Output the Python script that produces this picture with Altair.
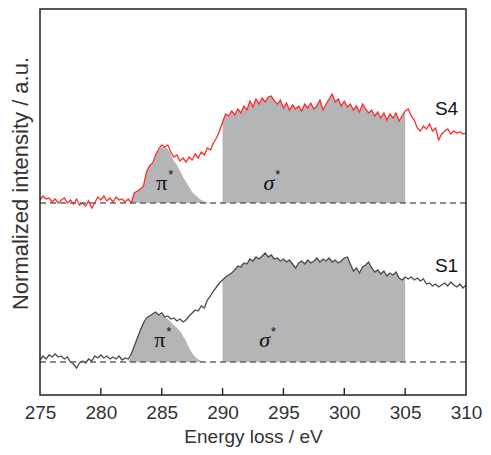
import altair as alt
import pandas as pd

# x sampling grid (eV), 0.25 eV step from 275 to 310
energy = [round(275 + 0.25 * i, 2) for i in range(141)]

s4 = [
    2.00, 2.04, 2.01, 2.02, 1.98, 2.01, 1.97, 2.00, 2.02, 1.97, 2.00, 1.96, 2.01, 1.95, 1.97, 1.94, 1.99, 1.92, 1.97, 2.03,
    2.00, 2.04, 1.99, 2.02, 1.98, 2.03, 2.00, 2.01, 1.98, 2.01, 1.97, 2.07, 2.09, 2.11, 2.14, 2.28, 2.34, 2.37, 2.45, 2.51,
    2.55, 2.53, 2.55, 2.48, 2.43, 2.45, 2.39, 2.42, 2.38, 2.43, 2.40, 2.46, 2.42, 2.48, 2.45, 2.52, 2.50, 2.57, 2.62, 2.69,
    2.78, 2.86, 2.84, 2.89, 2.85, 2.91, 2.87, 2.94, 2.90, 2.99, 2.93, 3.01, 2.96, 3.02, 2.98, 3.03, 3.04, 2.99, 2.96, 3.00,
    2.92, 2.97, 2.90, 2.95, 2.91, 2.94, 2.89, 2.96, 2.92, 2.97, 2.91, 2.94, 3.00, 2.90, 2.96, 3.01, 3.06, 2.98, 3.01, 2.94,
    2.99, 2.93, 2.96, 2.90, 2.94, 2.88, 2.96, 2.91, 2.87, 2.90, 2.84, 2.88, 2.82, 2.87, 2.80, 2.86, 2.82, 2.87, 2.79, 2.84,
    2.89, 2.91, 2.84, 2.80, 2.72, 2.69, 2.74, 2.71, 2.76, 2.69, 2.72, 2.60, 2.66, 2.69, 2.71, 2.66, 2.69, 2.67, 2.68, 2.66,
    2.67,
]

s1 = [
    0.40, 0.44, 0.41, 0.45, 0.43, 0.46, 0.43, 0.44, 0.41, 0.43, 0.38, 0.36, 0.32, 0.37, 0.39, 0.37, 0.41, 0.39, 0.44, 0.42,
    0.45, 0.42, 0.44, 0.41, 0.43, 0.41, 0.44, 0.40, 0.42, 0.41, 0.46, 0.54, 0.62, 0.70, 0.77, 0.82, 0.84, 0.86, 0.88, 0.85,
    0.87, 0.83, 0.84, 0.81, 0.82, 0.79, 0.81, 0.78, 0.80, 0.84, 0.87, 0.90, 0.89, 0.94, 0.92, 1.00, 1.04, 1.09, 1.13, 1.17,
    1.20, 1.23, 1.25, 1.27, 1.30, 1.34, 1.33, 1.37, 1.36, 1.41, 1.39, 1.43, 1.41, 1.44, 1.47, 1.43, 1.45, 1.41, 1.42, 1.39,
    1.41, 1.38, 1.40, 1.36, 1.32, 1.37, 1.39, 1.36, 1.40, 1.37, 1.39, 1.42, 1.38, 1.41, 1.39, 1.42, 1.38, 1.40, 1.37, 1.39,
    1.42, 1.43, 1.36, 1.29, 1.32, 1.27, 1.33, 1.35, 1.38, 1.32, 1.28, 1.30, 1.26, 1.29, 1.24, 1.27, 1.25, 1.28, 1.22, 1.20,
    1.23, 1.21, 1.23, 1.20, 1.22, 1.19, 1.21, 1.16, 1.17, 1.14, 1.16, 1.13, 1.15, 1.17, 1.14, 1.18, 1.15, 1.13, 1.16, 1.12,
    1.15,
]

samples = ["S4", "S1"]
baselines = [1.97, 0.38]

# pi* peak fills (read from the shaded regions)
pi_s4_energy = [282.5, 282.75, 283.0, 283.25, 283.5, 283.75, 284.0, 284.25, 284.5, 284.75, 285.0, 285.25, 285.5,
                285.75, 286.0, 286.25, 286.5, 286.75, 287.0, 287.25, 287.5, 287.75, 288.0, 288.25, 288.5, 288.75, 289.0]
pi_s4_top = [1.97, 2.07, 2.09, 2.11, 2.14, 2.28, 2.34, 2.36, 2.45, 2.50, 2.53, 2.53, 2.51,
             2.46, 2.39, 2.35, 2.29, 2.23, 2.18, 2.13, 2.08, 2.05, 2.02, 2.00, 1.985, 1.975, 1.97]
pi_s1_energy = [282.25, 282.5, 282.75, 283.0, 283.25, 283.5, 283.75, 284.0, 284.25, 284.5, 284.75, 285.0, 285.25,
                285.5, 285.75, 286.0, 286.25, 286.5, 286.75, 287.0, 287.25, 287.5, 287.75, 288.0, 288.25, 288.5]
pi_s1_top = [0.38, 0.45, 0.54, 0.62, 0.70, 0.77, 0.81, 0.84, 0.86, 0.87, 0.85, 0.85, 0.83,
             0.81, 0.78, 0.75, 0.72, 0.69, 0.64, 0.59, 0.52, 0.47, 0.43, 0.405, 0.39, 0.38]

sigma_start, sigma_end = 290, 305
ticks = [275, 280, 285, 290, 295, 300, 305, 310]
x_range = [275, 310]
y_range = [0.05, 3.91]
tick_len = 0.07  # inward tick length in intensity units

# ---- tables ----
curves = pd.concat([
    pd.DataFrame({"energy": energy, "intensity": s4, "sample": "S4", "base": baselines[0]}),
    pd.DataFrame({"energy": energy, "intensity": s1, "sample": "S1", "base": baselines[1]}),
])
pis = pd.concat([
    pd.DataFrame({"energy": pi_s4_energy, "intensity": pi_s4_top, "sample": "S4", "base": baselines[0]}),
    pd.DataFrame({"energy": pi_s1_energy, "intensity": pi_s1_top, "sample": "S1", "base": baselines[1]}),
])
base_df = pd.DataFrame({"sample": samples, "intensity": baselines})
tick_df = pd.DataFrame({"energy": ticks[1:-1]})
frame_df = pd.DataFrame({"k": [0]})

FILL = "#b3b5b7"
xscale = alt.Scale(domain=x_range, nice=False, zero=False)
yscale = alt.Scale(domain=y_range, nice=False, zero=False)
xaxis = alt.Axis(values=ticks, ticks=False, domain=False, grid=False, labelFontSize=19,
                 labelColor="#333333", labelFont="Liberation Sans", labelPadding=8,
                 title="Energy loss / eV", titleFontSize=19, titleFont="Liberation Sans",
                 titleFontWeight="normal", titleColor="#333333", titlePadding=5,
                 labelFlush=False)
yaxis = alt.Axis(labels=False, ticks=False, domain=False, grid=False,
                 title="Normalized intensity / a.u.", titleFontSize=22, titleFont="Liberation Sans",
                 titleFontWeight="normal", titleColor="#333333", titleX=-8, titleY=174)
X = alt.X("energy:Q", scale=xscale, axis=xaxis)
Y = alt.Y("intensity:Q", scale=yscale, axis=yaxis)

sigma_fill = alt.Chart(curves).transform_filter(
    (alt.datum.energy >= sigma_start) & (alt.datum.energy <= sigma_end)
).mark_area(color=FILL, opacity=1).encode(x=X, y=Y, y2="base:Q", detail="sample:N")

pi_fill = alt.Chart(pis).mark_area(color=FILL, opacity=1).encode(x=X, y=Y, y2="base:Q", detail="sample:N")

lines = alt.Chart(curves).mark_line(strokeWidth=1.3).encode(
    x=X, y=Y,
    color=alt.Color("sample:N", scale=alt.Scale(domain=samples, range=["#ff2b2b", "#4a4a4a"]), legend=None),
)

base_rules = alt.Chart(base_df).mark_rule(color="#666666", strokeWidth=1.3, strokeDash=[6, 4]).encode(
    x=alt.datum(x_range[0]), x2=alt.datum(x_range[1]), y=Y
)

tick_rules = alt.Chart(tick_df).mark_rule(color="#222222", strokeWidth=1.4).encode(
    x=X, y=alt.datum(y_range[0]), y2=alt.datum(y_range[0] + tick_len)
)

frame = alt.Chart(frame_df).mark_rect(filled=False, stroke="#222222", strokeWidth=1.5, fillOpacity=0).encode(
    x=alt.datum(x_range[0]), x2=alt.datum(x_range[1]), y=alt.datum(y_range[0]), y2=alt.datum(y_range[1])
)

sample_labels = pd.DataFrame({"energy": [308.4, 308.4], "intensity": [2.85, 1.28], "label": samples})
sym_labels = pd.DataFrame({
    "energy": [285.0, 293.8, 284.85, 293.45],
    "intensity": [2.10, 2.10, 0.53, 0.53],
    "label": ["π", "σ", "π", "σ"],
    "style": ["normal", "italic", "normal", "italic"],
})

t_samples = alt.Chart(sample_labels).mark_text(
    font="Liberation Sans", fontSize=19, color="#111111", align="center", baseline="alphabetic"
).encode(x=X, y=Y, text="label:N")

t_pi = alt.Chart(sym_labels).transform_filter(alt.datum.style == "normal").mark_text(
    font="Liberation Serif", fontSize=22, color="#111111", align="center", baseline="alphabetic"
).encode(x=X, y=Y, text="label:N")
t_sigma = alt.Chart(sym_labels).transform_filter(alt.datum.style == "italic").mark_text(
    font="Liberation Serif", fontSize=22, fontStyle="italic", color="#111111", align="center", baseline="alphabetic"
).encode(x=X, y=Y, text="label:N")
t_star = alt.Chart(sym_labels).mark_text(
    font="Liberation Sans", fontSize=13, color="#111111", align="center", baseline="alphabetic", dx=9, dy=-11
).encode(x=X, y=Y, text=alt.value("*"))

chart = alt.layer(
    sigma_fill, pi_fill, lines, base_rules, tick_rules, frame, t_samples, t_pi, t_sigma, t_star
).properties(
    width=426, height=386,
    autosize=alt.AutoSizeParams(type="none"),
    padding={"left": 32, "top": 1, "right": 17, "bottom": 52},
    background="white",
).configure_view(stroke=None)

chart.save("out.html", embed_options={"renderer": "svg", "actions": False})
